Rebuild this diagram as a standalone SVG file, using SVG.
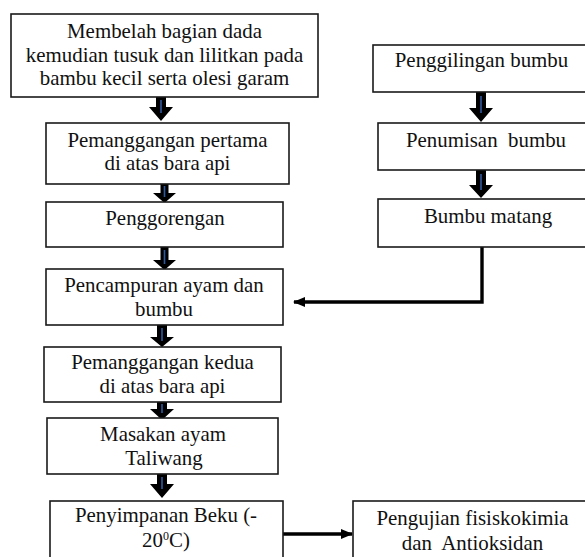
<svg xmlns="http://www.w3.org/2000/svg" width="585" height="557" viewBox="0 0 585 557">
<style>
.box{fill:#fff;stroke:#1a1a1a;stroke-width:1.6}
.t{font-family:'Liberation Serif',serif;font-size:20.9px;fill:#111;text-anchor:middle}
.blk{fill:#000}
.bl{stroke:#2f5aa0;stroke-width:1.6}
.ln{fill:none;stroke:#000;stroke-width:3.4}
</style>
<defs>
<marker id="ah" viewBox="0 0 12 10" refX="11" refY="5" markerWidth="12" markerHeight="10" markerUnits="userSpaceOnUse" orient="auto">
<path d="M0,0 L12,5 L0,10 Z" fill="#000"/>
</marker>
</defs>
<rect width="585" height="557" fill="#fff"/>
<g id="connectors">
<polygon class="blk" points="156,97 166,97 166,107 173,107 161,121 149,107 156,107"/>
<line class="bl" x1="161" y1="100" x2="161" y2="113"/>
<polygon class="blk" points="160.5,184 168.5,184 168.5,193 176,193 164.5,203 153,193 160.5,193"/>
<line class="bl" x1="164.5" y1="186" x2="164.5" y2="197"/>
<polygon class="blk" points="160.5,247 168.5,247 168.5,260 176,260 164.5,270 153,260 160.5,260"/>
<line class="bl" x1="164.5" y1="250" x2="164.5" y2="264"/>
<polygon class="blk" points="157,325 167,325 167,337 174,337 162,347 150,337 157,337"/>
<line class="bl" x1="162" y1="328" x2="162" y2="341"/>
<polygon class="blk" points="157,402 167,402 167,409 174,409 162,420 150,409 157,409"/>
<line class="bl" x1="162" y1="404" x2="162" y2="413"/>
<polygon class="blk" points="157,474 167,474 167,484 174,484 162,498 150,484 157,484"/>
<line class="bl" x1="162" y1="477" x2="162" y2="489"/>
<polygon class="blk" points="476,92 486,92 486,108 493,108 481,122 469,108 476,108"/>
<line class="bl" x1="481" y1="96" x2="481" y2="113"/>
<polygon class="blk" points="476,170 486,170 486,185 493,185 481,198 469,185 476,185"/>
<line class="bl" x1="481" y1="174" x2="481" y2="190"/>
<polyline class="ln" points="482,247 482,302 294,302" marker-end="url(#ah)"/>
<line class="ln" x1="283" y1="534" x2="352" y2="534" marker-end="url(#ah)"/>
</g>
<g id="n1">
<rect class="box" x="11" y="14" width="307" height="83"/>
<text class="t" x="164.5" y="38">Membelah bagian dada</text>
<text class="t" x="164.5" y="62">kemudian tusuk dan lilitkan pada</text>
<text class="t" x="164.5" y="85">bambu kecil serta olesi garam</text>
</g>
<g id="n2">
<rect class="box" x="46" y="123" width="243" height="61"/>
<text class="t" x="167.5" y="147">Pemanggangan pertama</text>
<text class="t" x="167.5" y="170">di atas bara api</text>
</g>
<g id="n3">
<rect class="box" x="46" y="202" width="237" height="45"/>
<text class="t" x="165" y="225">Penggorengan</text>
</g>
<g id="n4">
<rect class="box" x="46" y="269" width="237" height="56"/>
<text class="t" x="164" y="292">Pencampuran ayam dan</text>
<text class="t" x="164" y="316">bumbu</text>
</g>
<g id="n5">
<rect class="box" x="44" y="347" width="237" height="55"/>
<text class="t" x="162.5" y="369">Pemanggangan kedua</text>
<text class="t" x="162.5" y="393">di atas bara api</text>
</g>
<g id="n6">
<rect class="box" x="47" y="418" width="231" height="56"/>
<text class="t" x="163" y="441">Masakan ayam</text>
<text class="t" x="164" y="465">Taliwang</text>
</g>
<g id="n7">
<rect class="box" x="50" y="501" width="233" height="70"/>
<text class="t" x="166" y="522">Penyimpanan Beku (-</text>
<text class="t" x="166" y="547">20<tspan font-size="12" dy="-7">0</tspan><tspan dy="7">C)</tspan></text>
</g>
<g id="n8">
<rect class="box" x="353" y="501" width="240" height="70"/>
<text class="t" x="472.5" y="525">Pengujian fisiskokimia</text>
<text class="t" x="472.5" y="550" xml:space="preserve">dan  Antioksidan</text>
</g>
<g id="r1">
<rect class="box" x="373" y="45" width="220" height="47"/>
<text class="t" x="481.5" y="67">Penggilingan bumbu</text>
</g>
<g id="r2">
<rect class="box" x="378" y="123" width="215" height="47"/>
<text class="t" x="486" y="147" xml:space="preserve">Penumisan  bumbu</text>
</g>
<g id="r3">
<rect class="box" x="378" y="199" width="215" height="48"/>
<text class="t" x="488" y="223">Bumbu matang</text>
</g>
</svg>
